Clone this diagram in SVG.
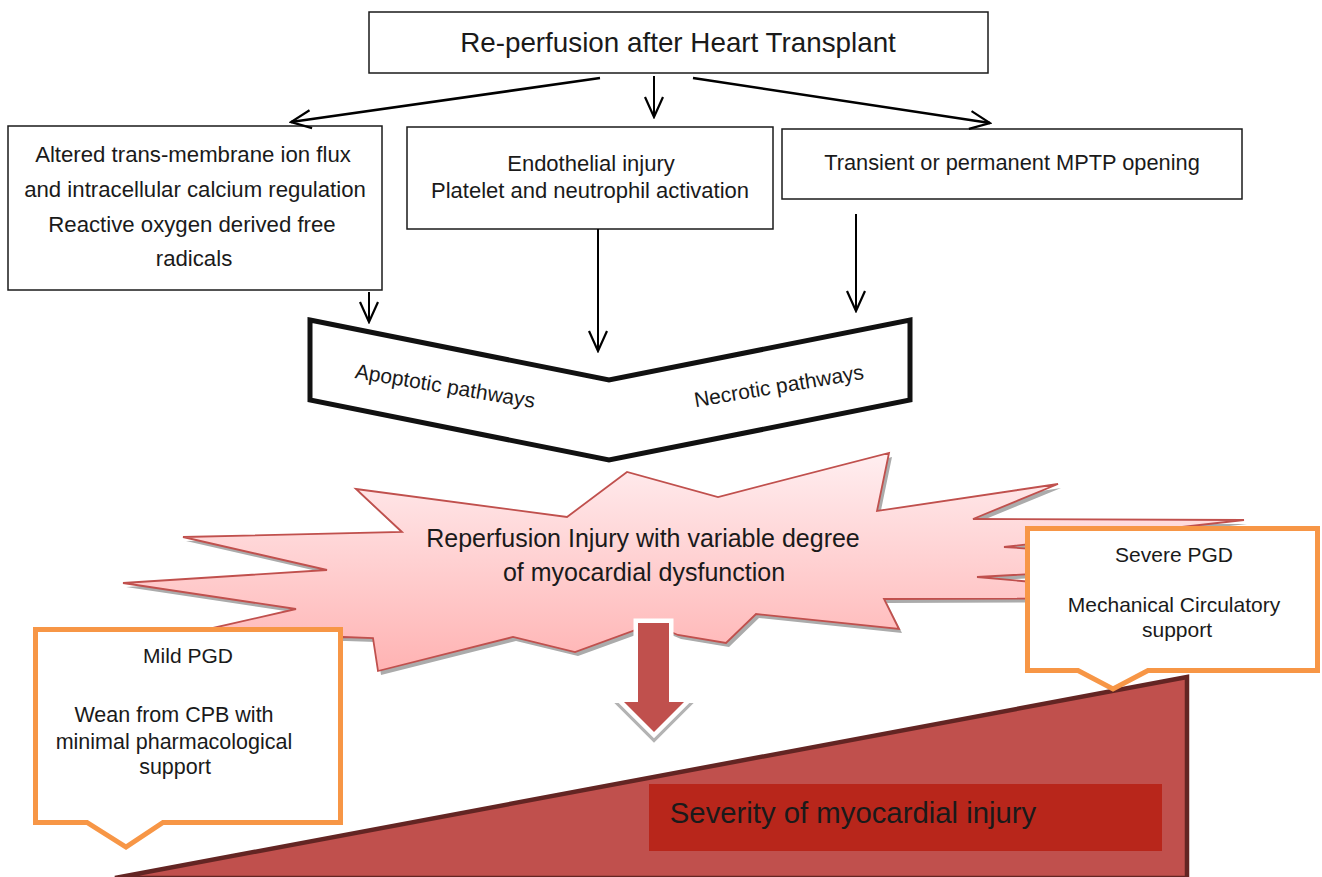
<svg xmlns="http://www.w3.org/2000/svg" width="1322" height="877" viewBox="0 0 1322 877">
  <defs>
    <marker id="open-head" viewBox="-22 -11 24 22" markerWidth="24" markerHeight="22" refX="0" refY="0" markerUnits="userSpaceOnUse" orient="auto">
      <path d="M-20,-9 L0,0 L-20,9" fill="none" stroke="#000" stroke-width="2.2"/>
    </marker>
    <linearGradient id="burst-fill" x1="0" y1="0" x2="0" y2="1">
      <stop offset="0" stop-color="#ffeef0"/>
      <stop offset="1" stop-color="#ffb3b3"/>
    </linearGradient>
    <style>
      .box { fill: #fff; stroke: #1a1a1a; stroke-width: 1.5; }
      .txt { font-family: "Liberation Sans", Arial, sans-serif; fill: #1a1a1a; text-anchor: middle; }
      .conn { stroke: #000; stroke-width: 2; fill: none; marker-end: url(#open-head); }
      .conn.wide { stroke-width: 2.6; }
      .callout { fill: #fff; stroke: #f79646; stroke-width: 5; stroke-linejoin: miter; }
    </style>
  </defs>

  <!-- severity ramp -->
  <g id="ramp">
    <polygon points="115,878 1187,677 1187,878" fill="#c0504d" stroke="#632523" stroke-width="4.5" stroke-linejoin="miter"/>
    <rect x="649" y="784" width="513" height="67" fill="#b8261b"/>
    <text class="txt" x="853" y="823" font-size="29.3" text-anchor="middle">Severity of myocardial injury</text>
  </g>

  <!-- top node -->
  <g id="reperfusion">
    <rect class="box" x="369" y="12" width="619" height="61"/>
    <text class="txt" x="678" y="52" font-size="27.8">Re-perfusion after Heart Transplant</text>
  </g>

  <g id="ion-flux">
    <rect class="box" x="8" y="126" width="374" height="164"/>
    <text class="txt" x="193" y="162" font-size="22.2">Altered trans-membrane ion flux</text>
    <text class="txt" x="195" y="197" font-size="22.2">and intracellular calcium regulation</text>
    <text class="txt" x="192" y="232" font-size="22.2">Reactive oxygen derived free</text>
    <text class="txt" x="194" y="266" font-size="22.2">radicals</text>
  </g>

  <g id="endothelial">
    <rect class="box" x="407" y="127" width="366" height="102"/>
    <text class="txt" x="591" y="171" font-size="22">Endothelial injury</text>
    <text class="txt" x="590" y="198" font-size="22">Platelet and neutrophil activation</text>
  </g>

  <g id="mptp">
    <rect class="box" x="782" y="129" width="460" height="70"/>
    <text class="txt" x="1012" y="170" font-size="21.8">Transient or permanent MPTP opening</text>
  </g>

  <!-- pathways chevron -->
  <g id="pathways">
    <polygon points="310,320 609,380 910,320 910,400 609,460 310,400" fill="#fff" stroke="#111" stroke-width="5" stroke-linejoin="miter"/>
    <text class="txt" font-size="21" transform="translate(444,393) rotate(9.5)">Apoptotic pathways</text>
    <text class="txt" font-size="21" transform="translate(780,393) rotate(-9.5)">Necrotic pathways</text>
  </g>

  <g id="connectors">
    <line class="conn wide" x1="600" y1="78" x2="291" y2="122"/>
    <line class="conn" x1="654" y1="76" x2="654" y2="117"/>
    <line class="conn wide" x1="693" y1="78" x2="990" y2="123"/>
    <line class="conn" x1="369" y1="292" x2="369" y2="322"/>
    <line class="conn" x1="598" y1="229" x2="598" y2="351"/>
    <line class="conn" x1="856" y1="214" x2="856" y2="311"/>
  </g>

  <!-- reperfusion injury burst -->
  <g id="injury">
    <polygon transform="translate(3,4)" fill="#ababab" points="356,489 567,517 627,472 718,497 889,453 877,511 1058,484 973,519 1244,520 1004,547 1235,563 977,577 1210,598 884,599 899,629 756,614 726,643 678,635 652,624 575,652 513,637 378,671 373,638 343,637 160,640 296,609 123,583 327,570 183,537 402,532"/>
    <polygon fill="url(#burst-fill)" stroke="#c0504d" stroke-width="1.8" stroke-linejoin="miter" points="356,489 567,517 627,472 718,497 889,453 877,511 1058,484 973,519 1244,520 1004,547 1235,563 977,577 1210,598 884,599 899,629 756,614 726,643 678,635 652,624 575,652 513,637 378,671 373,638 343,637 160,640 296,609 123,583 327,570 183,537 402,532"/>
    <text class="txt" x="643" y="547" font-size="25">Reperfusion Injury with variable degree</text>
    <text class="txt" x="644" y="581" font-size="25">of myocardial dysfunction</text>
  </g>

  <!-- downward block arrow -->
  <g id="down-arrow">
    <polygon transform="translate(0,5)" points="638,623 669,623 669,702 684,702 654,732 624,702 638,702" fill="#b3b3b3" stroke="#b3b3b3" stroke-width="8" stroke-linejoin="miter"/>
    <polygon points="638,623 669,623 669,702 684,702 654,732 624,702 638,702" fill="#fff" stroke="#fff" stroke-width="9" stroke-linejoin="miter"/>
    <polygon points="638,623 669,623 669,702 684,702 654,732 624,702 638,702" fill="#c0504d"/>
  </g>

  <!-- callouts -->
  <g id="mild-pgd">
    <path class="callout" d="M35.5,629.5 H340.5 V822.5 H163 L126,847 L87,822.5 H35.5 Z"/>
    <text class="txt" x="188" y="663" font-size="21">Mild PGD</text>
    <text class="txt" x="174" y="722" font-size="21.5">Wean from CPB with</text>
    <text class="txt" x="174" y="749" font-size="21.5">minimal pharmacological</text>
    <text class="txt" x="175" y="774" font-size="21.5">support</text>
  </g>

  <g id="severe-pgd">
    <path class="callout" d="M1027.5,528.5 H1317.5 V670.5 H1148 L1113,689 L1078,670.5 H1027.5 Z"/>
    <text class="txt" x="1174" y="562" font-size="21">Severe PGD</text>
    <text class="txt" x="1174" y="612" font-size="21">Mechanical Circulatory</text>
    <text class="txt" x="1177" y="637" font-size="21">support</text>
  </g>
</svg>
